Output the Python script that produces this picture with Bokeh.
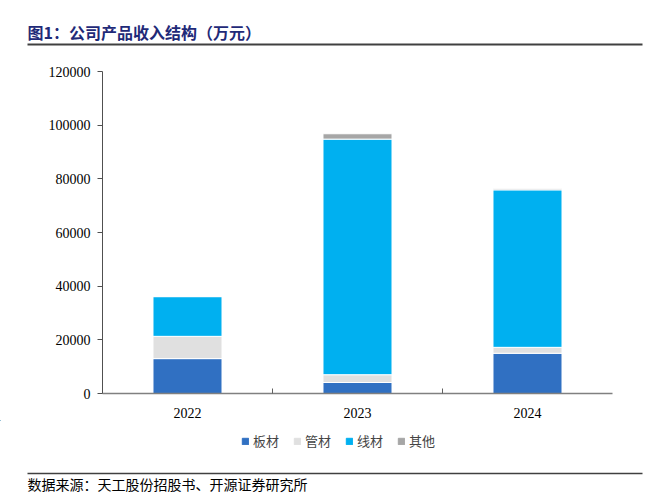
from bokeh.plotting import figure
from bokeh.models import FixedTicker, Legend, LegendItem, Range1d
from bokeh.core.properties import value
from bokeh.embed import file_html
from bokeh.resources import INLINE

years = ["2022", "2023", "2024"]
series = ["板材", "管材", "线材", "其他"]
banc = [13000, 4100, 15000]
guanc = [8300, 2900, 2200]
xianc = [14800, 87800, 58700]
qita = [150, 2000, 400]
colors = ["#3070C2", "#E0E0E0", "#00B0F0", "#A6A6A6"]
y_ticks = [0, 20000, 40000, 60000, 80000, 100000, 120000]
title_text = "图1：公司产品收入结构（万元）"
source_text = "数据来源：天工股份招股书、开源证券研究所"
cjk = "Noto Sans CJK SC"
W = 662


def blank(h):
    f = figure(width=W, height=h, output_backend="svg", toolbar_location=None,
               x_range=Range1d(0, W), y_range=Range1d(h, 0),
               min_border=0, min_border_left=0, min_border_right=0,
               min_border_top=0, min_border_bottom=0)
    f.axis.visible = False
    f.grid.visible = False
    f.outline_line_color = None
    return f


# ---- header
TH = 46
top = blank(TH)
top.text(x=[27], y=[31], text=[title_text], text_font=value(cjk),
         text_font_size="16px", text_font_style="bold", text_color="#1F2A78",
         text_baseline="middle")
top.segment(x0=[27], y0=[44], x1=[642], y1=[44], line_color="#404040",
            line_width=2)

# ---- main chart
MH = 374
xpos = [i + 0.5 for i in range(len(years))]
data = dict(x=xpos, 板材=banc, 管材=guanc, 线材=xianc, 其他=qita)
p = figure(width=W, height=MH, output_backend="svg", toolbar_location=None,
           x_range=Range1d(0, len(years)), y_range=Range1d(0, 120000),
           min_border_left=102, min_border_right=50, min_border_top=25,
           min_border_bottom=27)
p.outline_line_color = None
p.grid.visible = False

p.vbar_stack(series, x="x", width=0.406, source=data, color=colors,
             line_color="white", line_width=1)

xa = p.xaxis[0]
xa.ticker = FixedTicker(ticks=xpos, minor_ticks=[1, 2])
xa.major_label_overrides = {x: y for x, y in zip(xpos, years)}
xa.major_tick_line_color = None
xa.minor_tick_in = 5
xa.minor_tick_out = 0
xa.minor_tick_line_color = "#606060"
xa.axis_line_color = "#808080"
xa.axis_line_width = 1.5
xa.major_label_text_font = "Liberation Serif"
xa.major_label_text_font_size = "14px"
xa.major_label_text_color = "#000000"
xa.major_label_standoff = 8

ya = p.yaxis[0]
ya.ticker = FixedTicker(ticks=y_ticks)
ya.minor_tick_line_color = None
ya.major_tick_in = 0
ya.major_tick_out = 5
ya.major_tick_line_color = "#505050"
ya.axis_line_color = "#505050"
ya.major_label_text_font = "Liberation Serif"
ya.major_label_text_font_size = "14px"
ya.major_label_text_color = "#000000"
ya.major_label_standoff = 7
ya.formatter.use_scientific = False

# ---- legend + footer
BH = 74
bot = blank(BH)
dummies = [bot.vbar(x=[-100], top=[-100], bottom=[-101], width=1, color=c)
           for c in colors]
items = [LegendItem(label=s, renderers=[r]) for s, r in zip(series, dummies)]
legend = Legend(items=items, orientation="horizontal", location=(241, 44),
                label_text_font=cjk, label_text_font_size="13px",
                glyph_width=8, glyph_height=8, label_standoff=4, spacing=14,
                border_line_color=None, background_fill_alpha=0, margin=0,
                padding=0)
bot.add_layout(legend, "center")
bot.segment(x0=[27], y0=[53], x1=[642], y1=[53], line_color="#404040",
            line_width=1.5)
bot.text(x=[27], y=[63.5], text=[source_text], text_font=value(cjk),
         text_font_size="14px", text_color="#000000", text_baseline="middle")

open("out.html", "w").write(file_html([top, p, bot], INLINE))
